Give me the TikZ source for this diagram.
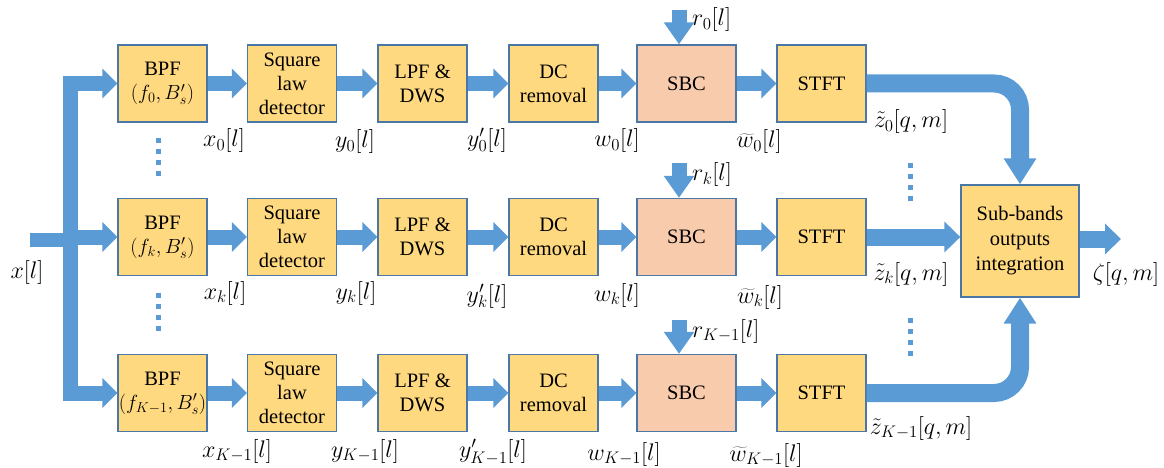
\RequirePackage{fix-cm}
\documentclass[tikz,border=0pt]{standalone}
\usepackage{fontspec}
\setmainfont{Liberation Serif}
\usetikzlibrary{arrows.meta}
\definecolor{ablue}{HTML}{5B9BD5}
\definecolor{bordc}{HTML}{4A77A6}
\definecolor{boxfill}{HTML}{FFD97F}
\definecolor{sbcfill}{HTML}{F8CBAD}
\begin{document}
\begin{tikzpicture}[x=1pt,y=-1pt,
  box/.style={draw=bordc, line width=1.3pt, fill=boxfill, minimum width=89pt, minimum height=77pt, inner sep=0pt, align=center, font=\fontsize{20.5}{24}\selectfont},
  sbcbox/.style={box, fill=sbcfill, minimum width=99pt},
  intbox/.style={box, minimum width=118pt, minimum height=112pt, font=\fontsize{20.5}{25}\selectfont},
  flow/.style={draw=ablue, line width=15pt, line join=miter, -{Triangle[width=29pt,length=15pt]}},
  bothflow/.style={draw=ablue, line width=15pt, line join=miter, {Triangle[width=29pt,length=15pt]}-{Triangle[width=29pt,length=15pt]}},
  vflow/.style={draw=ablue, line width=15pt, -{Triangle[width=29pt,length=22pt]}},
  oflow/.style={draw=ablue, line width=17pt, -{Triangle[width=30pt,length=16pt]}},
  ovflow/.style={draw=ablue, line width=18pt, rounded corners=26pt, -{Triangle[width=31pt,length=26pt]}},
  bar/.style={draw=ablue, line width=14pt},
  dotline/.style={draw=ablue, line width=5pt, dash pattern=on 5pt off 6pt},
  lab/.style={inner sep=0pt, font=\fontsize{24}{26}\selectfont},
]
\useasboundingbox (0,0) rectangle (1164,468);

% row 1
\node[box] (bpf0) at (162.5,83.5) {BPF\\$(f_0,B'_s)$};
\node[box] (sq0) at (292,83.5) {Square\\law\\detector};
\node[box] (lpf0) at (422.5,83.5) {LPF \&\\DWS};
\node[box] (dc0) at (553.5,83.5) {DC\\removal};
\node[sbcbox] (sbc0) at (686.5,83.5) {SBC};
\node[box] (stft0) at (821.5,83.5) {STFT};
% row 2
\node[box] (bpfk) at (162.5,237) {BPF\\$(f_k,B'_s)$};
\node[box] (sqk) at (292,237) {Square\\law\\detector};
\node[box] (lpfk) at (422.5,237) {LPF \&\\DWS};
\node[box] (dck) at (553.5,237) {DC\\removal};
\node[sbcbox] (sbck) at (686.5,237) {SBC};
\node[box] (stftk) at (821.5,237) {STFT};
% row 3
\node[box] (bpfK) at (162.5,393) {BPF\\$(f_{K-1},B'_s)$};
\node[box] (sqK) at (292,393) {Square\\law\\detector};
\node[box] (lpfK) at (422.5,393) {LPF \&\\DWS};
\node[box] (dcK) at (553.5,393) {DC\\removal};
\node[sbcbox] (sbcK) at (686.5,393) {SBC};
\node[box] (stftK) at (821.5,393) {STFT};
% integration
\node[intbox] (integ) at (1020,241) {Sub-bands\\outputs\\integration};

% input bus
\coordinate (in) at (30,240);
\coordinate (busmid) at (70,240);
\coordinate (busbot) at (70,393);
\draw[bar] (in) -- (busmid);
\draw[bothflow] (bpf0.west) -| (busbot) -- (bpfK.west);
\draw[flow] (busmid |- bpfk.west) -- (bpfk.west);

% chain arrows
\foreach \r in {0,k,K}{
  \draw[flow] (bpf\r.east) -- (sq\r.west);
  \draw[flow] (sq\r.east) -- (lpf\r.west);
  \draw[flow] (lpf\r.east) -- (dc\r.west);
  \draw[flow] (dc\r.east) -- (sbc\r.west);
  \draw[flow] (sbc\r.east) -- (stft\r.west);
}

% reference inputs
\coordinate (r0) at (679,10);
\coordinate (rk) at (679,163);
\coordinate (rK) at (679,320);
\draw[vflow] (r0) -- (r0 |- sbc0.north);
\draw[vflow] (rk) -- (rk |- sbck.north);
\draw[vflow] (rK) -- (rK |- sbcK.north);

% outputs
\draw[ovflow] (stft0.east) -| (integ.north);
\draw[ovflow] (stftK.east) -| (integ.south);
\draw[oflow] (stftk.east) -- (stftk.east -| integ.west);
\coordinate (out) at (1121,239);
\draw[oflow] (integ.east |- out) -- (out);

% dots
\coordinate (d1a) at (158,138); \coordinate (d1b) at (158,176);
\coordinate (d2a) at (158,293); \coordinate (d2b) at (158,331);
\coordinate (d3a) at (910,163); \coordinate (d3b) at (910,201);
\coordinate (d4a) at (910,318); \coordinate (d4b) at (910,356);
\draw[dotline] (d1a) -- (d1b);
\draw[dotline] (d2a) -- (d2b);
\draw[dotline] (d3a) -- (d3b);
\draw[dotline] (d4a) -- (d4b);

% labels
\node[lab] (lx) at (27,272) {$x[l]$};
\node[lab, anchor=west] (lr0) at (692,20) {$r_0[l]$};
\node[lab, anchor=west] (lrk) at (692,175) {$r_k[l]$};
\node[lab, anchor=west] (lrK) at (692,331) {$r_{K-1}[l]$};

\node[lab] (lx0) at (224,141) {$x_0[l]$};
\node[lab] (ly0) at (355,142) {$y_0[l]$};
\node[lab] (lyp0) at (487,140) {$y'_0[l]$};
\node[lab] (lw0) at (617,141) {$w_0[l]$};
\node[lab] (lwt0) at (759,142) {$\widetilde{w}_0[l]$};
\node[lab] (lz0) at (911,122) {$\tilde{z}_0[q,m]$};

\node[lab] (lxk) at (225,293) {$x_k[l]$};
\node[lab] (lyk) at (356,293) {$y_k[l]$};
\node[lab] (lypk) at (487,296) {$y'_k[l]$};
\node[lab] (lwk) at (617,295) {$w_k[l]$};
\node[lab] (lwtk) at (760,297) {$\widetilde{w}_k[l]$};
\node[lab] (lzk) at (911,274) {$\tilde{z}_k[q,m]$};

\node[lab] (lxK) at (237,451) {$x_{K-1}[l]$};
\node[lab] (lyK) at (365,451) {$y_{K-1}[l]$};
\node[lab] (lypK) at (493,452) {$y'_{K-1}[l]$};
\node[lab] (lwK) at (624,454) {$w_{K-1}[l]$};
\node[lab] (lwtK) at (766,455) {$\widetilde{w}_{K-1}[l]$};
\node[lab] (lzK) at (921,428) {$\tilde{z}_{K-1}[q,m]$};

\node[lab] (lzeta) at (1126,274) {$\zeta[q,m]$};
\end{tikzpicture}
\end{document}
